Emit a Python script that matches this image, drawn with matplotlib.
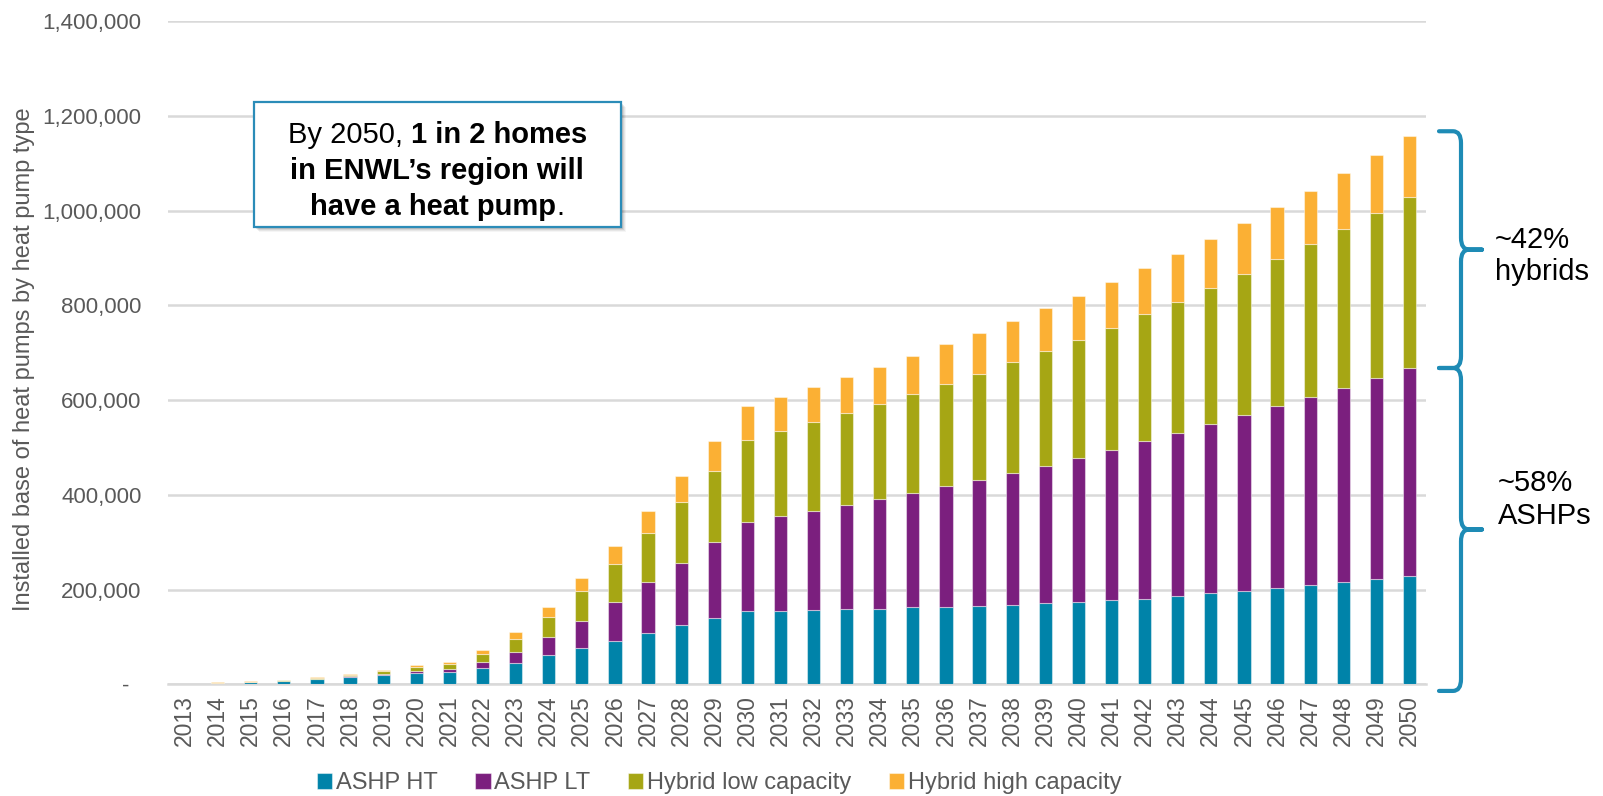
import matplotlib
matplotlib.use("Agg")
import matplotlib.pyplot as plt
import numpy as np
from matplotlib.patches import Rectangle, PathPatch
from matplotlib.path import Path
from matplotlib.transforms import blended_transform_factory
from matplotlib.offsetbox import TextArea, HPacker, VPacker, AnnotationBbox

plt.rcParams["font.family"] = ["Liberation Sans", "DejaVu Sans"]

# Installed base of heat pumps by type, per year
years = list(range(2013, 2051))
ashp_ht = [500, 2500, 5000, 7200, 11200, 16000, 19700, 24000, 25000, 34000,
           45000, 61000, 76000, 92000, 109000, 125000, 140000, 154000, 155000, 157000,
           159000, 160000, 163000, 164000, 165000, 167000, 171000, 173000, 177000, 181000,
           187000, 192000, 198000, 204000, 210000, 217000, 222000, 229000]
ashp_lt = [0, 300, 300, 500, 600, 2000, 2100, 3500, 7000, 13000,
           24000, 39000, 58000, 82000, 106000, 132000, 161000, 189000, 200000, 210000,
           220000, 231000, 241000, 254000, 266000, 279000, 291000, 304000, 318000, 332000,
           343000, 357000, 370000, 383000, 397000, 409000, 424000, 439000]
hybrid_low = [0, 600, 500, 1500, 2000, 2500, 5700, 8500, 10000, 18000,
              26000, 43000, 62000, 81000, 104000, 128000, 149000, 172000, 179000, 186000,
              193000, 201000, 209000, 216000, 225000, 234000, 242000, 251000, 258000, 268000,
              278000, 288000, 299000, 311000, 322000, 336000, 349000, 362000]
hybrid_high = [300, 800, 700, 800, 1200, 2000, 3500, 4800, 5000, 8000,
               15000, 21000, 28000, 38000, 47000, 54000, 64000, 72000, 73000, 74000,
               77000, 79000, 81000, 84000, 86000, 88000, 90000, 93000, 96000, 98000,
               100000, 104000, 107000, 110000, 113000, 117000, 122000, 128000]

series_names = ["ASHP HT", "ASHP LT", "Hybrid low capacity", "Hybrid high capacity"]
series_colors = ["#0083A9", "#7B1F7E", "#A6A614", "#FBB034"]
y_ticks = [0, 200000, 400000, 600000, 800000, 1000000, 1200000, 1400000]

W, H = 1603, 796
fig = plt.figure(figsize=(W / 100, H / 100), dpi=100)
ax = fig.add_axes([168 / W, 1 - 684.3 / H, (1426 - 168) / W, (684.3 - 21.4) / H])

x = np.arange(len(years))
bottom = np.zeros(len(years))
bars = []
for vals, name, col in zip([ashp_ht, ashp_lt, hybrid_low, hybrid_high], series_names, series_colors):
    v = np.array(vals, dtype=float)
    b = ax.bar(x, v, width=0.4, bottom=bottom, color=col, label=name,
               edgecolor=(1, 1, 1, 0.45), linewidth=0.8, zorder=3)
    bars.append(b)
    bottom = bottom + v

grey = "#595959"
ax.set_xlim(-0.5, len(years) - 0.5)
ax.set_ylim(0, 1400000)
ax.set_yticks(y_ticks)
ax.set_yticklabels(["-  "] + [f"{t:,}" for t in y_ticks[1:]])
ax.set_xticks(x)
ax.set_xticklabels([str(y) for y in years], rotation=90)
ax.tick_params(axis="y", length=0, pad=19, labelsize=16, labelcolor=grey)
ax.tick_params(axis="x", length=0, pad=8, labelsize=16.5, labelcolor=grey)
ax.grid(axis="y", color="#D9D9D9", linewidth=1.8, zorder=0)
ax.set_axisbelow(True)
for s in ["top", "right", "left"]:
    ax.spines[s].set_visible(False)
ax.spines["bottom"].set_color("#D9D9D9")
ax.spines["bottom"].set_linewidth(1.8)

ax.set_ylabel("Installed base of heat pumps by heat pump type", fontsize=17, color=grey)
ax.yaxis.set_label_coords(-0.106, 0.49)

leg = fig.legend(handles=bars, labels=series_names, loc="center",
                 bbox_to_anchor=(0.4486, 0.016), ncol=4, frameon=False,
                 fontsize=17, handlelength=0.65, handleheight=0.65,
                 handletextpad=0.15, columnspacing=1.6)
for t in leg.get_texts():
    t.set_color(grey)

# Callout box with shadow
bx0, bx1 = 254 / W, 620.5 / W
by0, by1 = 1 - 227 / H, 1 - 102 / H
for i, a in enumerate([0.10, 0.08, 0.06, 0.04]):
    off = (i + 2)
    fig.patches.append(Rectangle((bx0 + off / W, by0 - off / H), bx1 - bx0, by1 - by0,
                                 transform=fig.transFigure, facecolor="black", alpha=a,
                                 edgecolor="none", zorder=5))
fig.patches.append(Rectangle((bx0, by0), bx1 - bx0, by1 - by0, transform=fig.transFigure,
                             facecolor="white", edgecolor="#2B8CB8", linewidth=1.6, zorder=6))

fs = 21
norm = dict(fontsize=fs, color="black")
bold = dict(fontsize=fs, color="black", fontweight="bold")
line1 = HPacker(children=[TextArea("By 2050, ", textprops=norm),
                          TextArea("1 in 2 homes", textprops=bold)], align="baseline", pad=0, sep=0)
line2 = HPacker(children=[TextArea("in ENWL\u2019s region will", textprops=bold)], align="baseline", pad=0, sep=0)
line3 = HPacker(children=[TextArea("have a heat pump", textprops=bold),
                          TextArea(".", textprops=norm)], align="baseline", pad=0, sep=0)
block = VPacker(children=[line1, line2, line3], align="center", pad=0, sep=5.5)
ab = AnnotationBbox(block, ((bx0 + bx1) / 2, 1 - 171 / H), xycoords="figure fraction",
                    frameon=False, box_alignment=(0.5, 0.5), zorder=7)
fig.add_artist(ab)

# Curly braces for the 2050 split
trans = blended_transform_factory(fig.transFigure, ax.transData)
xe, xs, xt = 1439 / W, 1461 / W, 1482 / W
c = 8 / W
r = 25000
brace_color = "#1E8BB5"
total_2050 = bottom[-1]
ashp_2050 = ashp_ht[-1] + ashp_lt[-1]


def brace(y0, y1, ym):
    verts = [(xe, y1), (xs - c, y1), (xs, y1), (xs, y1 - r), (xs, ym + r), (xs, ym), (xs + c, ym), (xt, ym),
             (xe, y0), (xs - c, y0), (xs, y0), (xs, y0 + r), (xs, ym - r), (xs, ym), (xs + c, ym), (xt, ym)]
    codes = [Path.MOVETO, Path.LINETO, Path.CURVE3, Path.CURVE3, Path.LINETO, Path.CURVE3, Path.CURVE3, Path.LINETO] * 2
    p = PathPatch(Path(verts, codes), transform=trans, facecolor="none", edgecolor=brace_color,
                  linewidth=3, capstyle="round", joinstyle="round", clip_on=False)
    fig.patches.append(p)


upper_top = total_2050 + 10000
lower_bot = -14000
upper_mid = (ashp_2050 + upper_top) / 2
lower_mid = (ashp_2050 + lower_bot) / 2
brace(ashp_2050, upper_top, upper_mid)
brace(lower_bot, ashp_2050, lower_mid)

hyb_share = round(100 * (hybrid_low[-1] + hybrid_high[-1]) / total_2050)
ashp_share = round(100 * ashp_2050 / total_2050)
fig.text(1495 / W, upper_mid - 14000, f"~{hyb_share}%\nhybrids", transform=trans, fontsize=21,
         ha="left", va="center", color="black")
fig.text(1498 / W, lower_mid + 63000, f"~{ashp_share}%\nASHPs", transform=trans, fontsize=21,
         ha="left", va="center", color="black")

fig.savefig("out.png", dpi=100)
